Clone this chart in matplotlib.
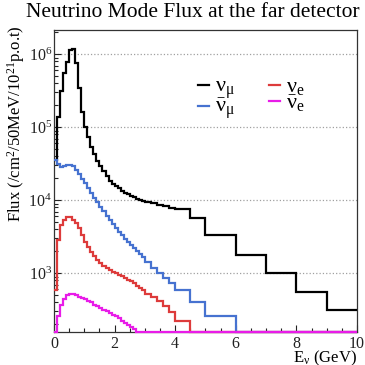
import numpy as np
import matplotlib
matplotlib.use("Agg")
import matplotlib.pyplot as plt
from matplotlib.ticker import LogLocator, MultipleLocator, NullFormatter
from matplotlib.lines import Line2D

# ------------------------------------------------------------------------------------------
# fonts: Times-like look as in the ROOT canvas
plt.rcParams["font.family"] = ["Liberation Serif", "DejaVu Serif"]
plt.rcParams["mathtext.fontset"] = "custom"
plt.rcParams["mathtext.rm"] = "Liberation Serif"
plt.rcParams["mathtext.it"] = "Liberation Serif"
plt.rcParams["mathtext.bf"] = "Liberation Serif:bold"

# ------------------------------------------------------------------------------------------
# flux at the far detector, neutrino mode (/cm2/50MeV/1e21 p.o.t)
bin_edges = [0.0, 0.1, 0.2, 0.3, 0.4, 0.5, 0.6, 0.7, 0.8, 0.9,
             1.0, 1.1, 1.2, 1.3, 1.4, 1.5, 1.6, 1.7, 1.8, 1.9,
             2.0, 2.1, 2.2, 2.3, 2.4, 2.5, 2.6, 2.7, 2.8, 2.9,
             3.0, 3.2, 3.4, 3.6, 3.8, 4.0, 4.5, 5.0, 6.0, 7.0,
             8.0, 9.0, 10.0]

flux_numu = [35500, 138000, 309000, 550000, 794000, 1150000, 1175000, 759000, 347000, 162000,
             102000, 74100, 53700, 42700, 34700, 29500, 25100, 21400, 18600, 16600,
             15500, 14500, 13500, 12600, 12000, 11500, 11000, 10500, 10000, 9770,
             9550, 9120, 8710, 8320, 7940, 7590, 5620, 3310, 1780, 1000, 562, 316]

flux_numubar = [35500, 31600, 28800, 29500, 30200, 30200, 29500, 26300, 22900, 19500,
                17000, 14800, 12600, 10700, 9330, 8130, 7080, 6170, 5370, 4680,
                4170, 3720, 3310, 2950, 2690, 2400, 2190, 2000, 1820, 1660,
                1410, 1170, 1000, 850, 724, 589, 398, 257, 0, 0, 0, 0]

flux_nue = [589, 2820, 4570, 5370, 5890, 5890, 5370, 4900, 4170, 3310,
            2690, 2290, 1950, 1700, 1510, 1380, 1260, 1170, 1120, 1050,
            1000, 955, 912, 851, 813, 776, 724, 676, 631, 589,
            525, 468, 417, 355, 295, 219, 0, 0, 0, 0, 0, 0]

flux_nuebar = [100, 263, 363, 447, 501, 525, 525, 501, 479, 457,
               437, 417, 398, 372, 355, 339, 316, 302, 288, 269,
               257, 240, 224, 209, 195, 182, 170, 158, 141, 126,
               0, 0, 0, 0, 0, 0, 0, 0, 0, 0, 0, 0]

y_lo, y_hi = 156, 2.15e6

# ------------------------------------------------------------------------------------------
fig = plt.figure(figsize=(3.65, 3.65), dpi=100)
ax = fig.add_axes([0.148, 0.090, 0.830, 0.828])

list_hist = [
    (flux_numu, "black", r"$\nu_{\mu}$"),
    (flux_numubar, "#4672d0", r"$\bar{\nu}_{\mu}$"),
    (flux_nue, "#dd3b3b", r"$\nu_{e}$"),
    (flux_nuebar, "#e81ce8", r"$\bar{\nu}_{e}$"),
]

handles = []
labels = []
for crrt_flux, crrt_color, crrt_label in list_hist:
    # empty bins sit on the bottom of the frame, as ROOT draws them
    vals = np.maximum(np.array(crrt_flux, dtype=float), y_lo)
    ax.stairs(vals, bin_edges, baseline=None, color=crrt_color, linewidth=1.6, clip_on=False, zorder=3)
    handles.append(Line2D([], [], color=crrt_color, linewidth=1.6))
    labels.append(crrt_label)

ax.set_yscale("log")
ax.set_xlim(0, 10)
ax.set_ylim(y_lo, y_hi)

ax.yaxis.set_major_locator(LogLocator(base=10, numticks=10))
ax.yaxis.set_minor_locator(LogLocator(base=10, subs=np.arange(2, 10), numticks=20))
ax.yaxis.set_minor_formatter(NullFormatter())
ax.xaxis.set_major_locator(MultipleLocator(2))
ax.xaxis.set_minor_locator(MultipleLocator(0.5))

ax.tick_params(which="both", direction="in", top=False, right=False, labelsize=11.5, colors="#222222")
ax.tick_params(which="major", length=5, width=0.8)
ax.tick_params(which="minor", length=2.8, width=0.8)
ax.tick_params(axis="x", pad=3)
ax.tick_params(axis="y", pad=1.5)

ax.grid(axis="y", which="major", linestyle=":", color="#a0a0a0", linewidth=0.9)
for spine in ax.spines.values():
    spine.set_linewidth(0.9)
    spine.set_color("#333333")

ax.set_ylabel(r"Flux (/cm$^{2}$/50MeV/10$^{21}$p.o.t)", fontsize=12, loc="top")
ax.yaxis.set_label_coords(-0.09, 1.016)
ax.set_xlabel(r"E$_{\nu}$ (GeV)", fontsize=12, loc="right")
ax.xaxis.set_label_coords(1.0, -0.056)

fig.suptitle("Neutrino Mode Flux at the far detector", x=0.527, y=0.992, fontsize=15.5, va="top")

# legend: two columns (nu on top row, anti-nu below), no frame
ax.legend(handles, labels, ncol=2, frameon=False,
          loc="upper left", bbox_to_anchor=(0.475, 0.845), borderpad=0, borderaxespad=0,
          handlelength=0.5, handletextpad=0.25, columnspacing=1.55, labelspacing=-0.18,
          fontsize=16)

fig.savefig("out.png", dpi=100)
